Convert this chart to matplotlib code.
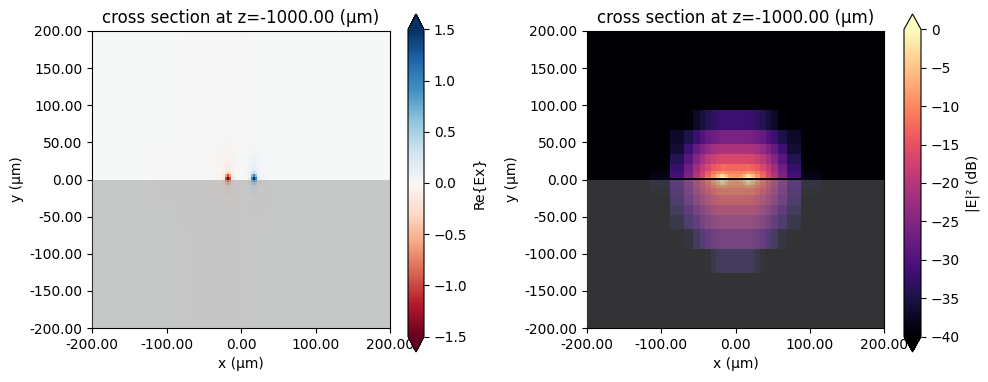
import numpy as np
import matplotlib
matplotlib.use("Agg")
import matplotlib.pyplot as plt
from matplotlib.ticker import FormatStrFormatter, MultipleLocator
from matplotlib.patches import Rectangle

# ---- grid (cell edges, µm) ----
x_edges_pos = [0, 5, 10, 14, 16.5, 18.5, 21, 26, 33, 41, 48, 57, 70, 88, 115, 155, 200]
y_edges_up = [0, 2, 4, 7, 12, 21, 34, 48, 66, 93, 126, 165, 200]
y_edges_down = [0, 3, 7, 12, 21, 34, 48, 66, 93, 126, 165, 200]

# ---- |E|^2 in dB, right half (x>=0); rows from y=0 outward ----
db_upper = [
    [-60, -60, -60, -60, -60, -60, -60, -60, -60, -60, -60, -60, -60, -38, -48, -55],
    [-8, -7, -4, -1, 0, -1, -4, -8, -12, -16, -20, -25, -31, -38, -48, -55],
    [-9, -8.5, -6, -3, -2, -3, -6, -9.5, -13, -16.5, -20.5, -25.5, -31, -38.5, -48, -55],
    [-10.5, -10.5, -10, -9, -8.5, -9, -10, -11.5, -14, -17.5, -21, -26, -31.5, -39, -48, -55],
    [-13, -13, -13, -12.5, -12.5, -13, -13.5, -14.5, -16.5, -19, -22.5, -27, -32.5, -39.5, -49, -55],
    [-16.5, -16.5, -16.5, -16.5, -16.5, -16.5, -17, -18, -19.5, -22, -25, -29, -34, -41, -50, -55],
    [-21, -21, -21, -21, -21, -21, -21.5, -22, -23.5, -25.5, -28, -31.5, -36, -43, -51, -55],
    [-26, -26, -26, -26, -26, -26, -26.5, -27, -28, -30, -32, -35, -37, -44, -52, -55],
    [-32, -32, -32, -32, -32, -32, -32.5, -33, -34, -35.5, -37, -39.5, -43, -49, -54, -55],
    [-41, -41, -41, -41, -41, -41, -41.5, -42, -43, -44, -45, -47, -50, -53, -55, -55],
    [-50, -50, -50, -50, -50, -50, -50, -51, -51, -52, -52, -53, -54, -55, -55, -55],
    [-55, -55, -55, -55, -55, -55, -55, -55, -55, -55, -55, -55, -55, -55, -55, -55],
]
db_lower = [
    [-8, -7, -4, -1, 0, -1, -4, -8, -12, -16, -20, -25, -31, -38, -48, -55],
    [-9, -8.5, -6, -3, -2, -3, -6, -9.5, -13, -16.5, -20.5, -25.5, -31, -38.5, -48, -55],
    [-10, -10, -9.5, -9, -8.5, -9, -10, -11.5, -14, -17, -20.5, -25.5, -31, -38, -47, -55],
    [-12, -12, -12, -12, -12, -12, -12.5, -14, -16, -18.5, -22, -26.5, -32, -39, -48, -55],
    [-15, -15, -15, -15, -15, -15, -15.5, -16.5, -18.5, -21, -24, -28, -33, -40, -49, -55],
    [-18.5, -18.5, -18.5, -18.5, -18.5, -18.5, -19, -20, -21.5, -24, -27, -30.5, -35, -42, -50, -55],
    [-22, -22, -22, -22, -22, -22, -22.5, -23.5, -25, -27, -30, -33, -37, -44, -51, -55],
    [-27, -27, -27, -27, -27, -27, -27.5, -28.5, -30, -32, -35, -38, -42, -48, -53, -55],
    [-35, -35, -35, -35, -35, -35, -35.5, -37, -39, -41, -43, -46, -49, -53, -55, -55],
    [-46, -46, -46, -46, -46, -46, -46, -47, -48, -49, -50, -51, -53, -55, -55, -55],
    [-55, -55, -55, -55, -55, -55, -55, -55, -55, -55, -55, -55, -55, -55, -55, -55],
]

# ---- Re{Ex}, right half (x>=0, positive lobe); rows from y=0 outward ----
ex_upper = [
    [0.01, 0.03, 0.15, 1.0, 1.8, 1.0, 0.15, 0.05, 0.02, 0.01, 0.005, 0.003, 0.002, 0.001, 0, 0],
    [0.01, 0.03, 0.15, 1.0, 1.8, 1.0, 0.15, 0.05, 0.02, 0.01, 0.005, 0.003, 0.002, 0.001, 0, 0],
    [0.01, 0.03, 0.12, 0.6, 1.0, 0.6, 0.12, 0.05, 0.02, 0.01, 0.005, 0.003, 0.002, 0.001, 0, 0],
    [0.01, 0.03, 0.08, 0.25, 0.35, 0.25, 0.08, 0.04, 0.02, 0.01, 0.005, 0.003, 0.002, 0.001, 0, 0],
    [0.01, 0.03, 0.06, 0.12, 0.15, 0.12, 0.06, 0.03, 0.02, 0.01, 0.005, 0.003, 0.002, 0.001, 0, 0],
    [0.01, 0.02, 0.04, 0.06, 0.07, 0.06, 0.04, 0.025, 0.015, 0.008, 0.004, 0.003, 0.002, 0.001, 0, 0],
    [0.008, 0.015, 0.025, 0.03, 0.035, 0.03, 0.025, 0.018, 0.01, 0.006, 0.004, 0.003, 0.002, 0.001, 0, 0],
    [0.005, 0.008, 0.012, 0.015, 0.015, 0.015, 0.012, 0.01, 0.007, 0.005, 0.003, 0.002, 0.001, 0, 0, 0],
    [0.003, 0.004, 0.005, 0.006, 0.006, 0.006, 0.005, 0.004, 0.003, 0.002, 0.002, 0.001, 0.001, 0, 0, 0],
    [0.002, 0.002, 0.002, 0.002, 0.002, 0.002, 0.002, 0.002, 0.002, 0.001, 0.001, 0.001, 0, 0, 0, 0],
    [0.002, 0.002, 0.002, 0.002, 0.002, 0.002, 0.002, 0.002, 0.002, 0.001, 0.001, 0.001, 0, 0, 0, 0],
    [0.002, 0.002, 0.002, 0.002, 0.002, 0.002, 0.002, 0.002, 0.002, 0.001, 0.001, 0.001, 0, 0, 0, 0],
]
ex_lower = [
    [0.01, 0.03, 0.12, 0.6, 0.8, 0.6, 0.12, 0.05, 0.02, 0.01, 0.005, 0.003, 0.002, 0.001, 0, 0],
    [0.01, 0.03, 0.1, 0.35, 0.5, 0.35, 0.1, 0.04, 0.02, 0.01, 0.005, 0.003, 0.002, 0.001, 0, 0],
    [0.01, 0.03, 0.07, 0.15, 0.2, 0.15, 0.07, 0.035, 0.02, 0.01, 0.005, 0.003, 0.002, 0.001, 0, 0],
    [0.01, 0.02, 0.05, 0.08, 0.1, 0.08, 0.05, 0.03, 0.015, 0.008, 0.004, 0.003, 0.002, 0.001, 0, 0],
    [0.008, 0.015, 0.03, 0.045, 0.05, 0.045, 0.03, 0.02, 0.012, 0.006, 0.004, 0.003, 0.002, 0.001, 0, 0],
    [0.005, 0.01, 0.018, 0.022, 0.025, 0.022, 0.018, 0.012, 0.008, 0.005, 0.003, 0.002, 0.001, 0, 0, 0],
    [0.003, 0.006, 0.01, 0.012, 0.012, 0.012, 0.01, 0.008, 0.005, 0.003, 0.002, 0.001, 0.001, 0, 0, 0],
    [0.002, 0.003, 0.004, 0.005, 0.005, 0.005, 0.004, 0.003, 0.002, 0.002, 0.001, 0.001, 0, 0, 0, 0],
    [0.002, 0.002, 0.002, 0.002, 0.002, 0.002, 0.002, 0.002, 0.002, 0.001, 0.001, 0.001, 0, 0, 0, 0],
    [0.002, 0.002, 0.002, 0.002, 0.002, 0.002, 0.002, 0.002, 0.002, 0.001, 0.001, 0.001, 0, 0, 0, 0],
    [0.002, 0.002, 0.002, 0.002, 0.002, 0.002, 0.002, 0.002, 0.002, 0.001, 0.001, 0.001, 0, 0, 0, 0],
]

title = "cross section at z=-1000.00 (µm)"
ex_ticks = [-1.5, -1.0, -0.5, 0.0, 0.5, 1.0, 1.5]
db_ticks = [-40, -35, -30, -25, -20, -15, -10, -5, 0]

# ---- assemble full grids ----
xp = np.array(x_edges_pos, float)
x_edges = np.concatenate([-xp[::-1], xp[1:]])
yu = np.array(y_edges_up, float)
yd = np.array(y_edges_down, float)
y_edges = np.concatenate([-yd[::-1], yu[1:]])

def full_field(upper, lower, sign):
    right = np.vstack([np.array(lower, float)[::-1], np.array(upper, float)])
    left = sign * right[:, ::-1]
    return np.hstack([left, right])

db_full = full_field(db_upper, db_lower, 1.0)
ex_full = full_field(ex_upper, ex_lower, -1.0)

W, H = 988, 382
fig = plt.figure(figsize=(W / 100, H / 100), dpi=100)

def px_axes(x0, y0, x1, y1):
    return fig.add_axes([x0 / W, 1 - y1 / H, (x1 - x0) / W, (y1 - y0) / H])

ax1 = px_axes(92, 31, 390, 328)
cax1 = px_axes(408, 14, 424, 352)
ax2 = px_axes(587, 31, 884, 328)
cax2 = px_axes(904, 14, 921, 352)

m1 = ax1.pcolormesh(x_edges, y_edges, ex_full, cmap="RdBu", vmin=-1.5, vmax=1.5, shading="flat")
m2 = ax2.pcolormesh(x_edges, y_edges, db_full, cmap="magma", vmin=-40, vmax=0, shading="flat")

for ax in (ax1, ax2):
    ax.add_patch(Rectangle((-200, -200), 400, 200, facecolor=(0.5, 0.5, 0.5), alpha=0.4,
                           edgecolor="none", zorder=3))
    ax.set_xlim(-200, 200)
    ax.set_ylim(-200, 200)
    ax.xaxis.set_major_locator(MultipleLocator(100))
    ax.yaxis.set_major_locator(MultipleLocator(50))
    ax.xaxis.set_major_formatter(FormatStrFormatter("%.2f"))
    ax.yaxis.set_major_formatter(FormatStrFormatter("%.2f"))
    ax.set_xlabel("x (µm)")
    ax.set_ylabel("y (µm)")
    ax.set_title(title)

cb1 = fig.colorbar(m1, cax=cax1, extend="both", ticks=ex_ticks)
cb1.set_label("Re{Ex}")
cb2 = fig.colorbar(m2, cax=cax2, extend="both", ticks=db_ticks)
cb2.set_label("|E|² (dB)")

fig.savefig("out.png", dpi=100)
